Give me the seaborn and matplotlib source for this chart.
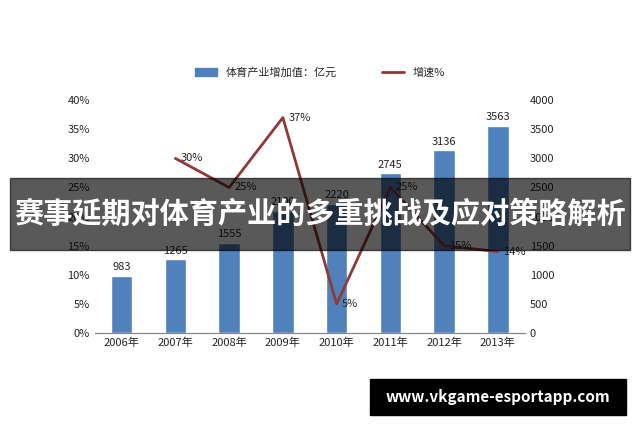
import matplotlib
matplotlib.use("Agg")
import matplotlib.pyplot as plt
import seaborn as sns
import pandas as pd

years = ["2006年","2007年","2008年","2009年","2010年","2011年","2012年","2013年"]
values = [983, 1265, 1555, 2100, 2220, 2745, 3136, 3563]
growth_years = ["2007年","2008年","2009年","2010年","2011年","2012年","2013年"]
growth = [30, 25, 37, 5, 25, 15, 14]

sns.set_style("white")
plt.rcParams['font.family'] = ['Noto Sans CJK SC', 'DejaVu Sans']

fig = plt.figure(figsize=(6.4, 4.26), dpi=100)
ax = fig.add_axes([0.148, 0.218, 0.672, 0.547])
ax2 = ax.twinx()
df = pd.DataFrame({"year": years, "v": values})
sns.barplot(data=df, x="year", y="v", ax=ax2, color="#4F81BD", width=0.4, saturation=1, zorder=1)
for i, v in enumerate(values):
    ax2.text(i, v + 60, str(v), ha="center", va="bottom", fontsize=8)
ax2.set_ylim(0, 4000)
ax2.set_yticks(range(0, 4001, 500))
ax2.set_ylabel("")
ax2.tick_params(labelsize=8, length=0)

xi = [years.index(y) for y in growth_years]
ax.set_zorder(ax2.get_zorder() + 1)
ax.patch.set_visible(False)
sns.lineplot(x=xi, y=growth, ax=ax, color="#953735", linewidth=2)
for x, g in zip(xi, growth):
    ax.text(x + 0.1, g, f"{g}%", fontsize=8, va="center")
ax.set_ylim(0, 40)
ax.set_yticks(range(0, 41, 5))
ax.set_yticklabels([f"{t}%" for t in range(0, 41, 5)])
ax.set_xlim(-0.5, 7.5)
ax.set_xticks(range(8))
ax.set_xticklabels(years)
ax.tick_params(labelsize=8, length=0)
ax2.set_xlabel("")
for a in (ax, ax2):
    for s in a.spines.values():
        s.set_visible(False)
    a.spines["bottom"].set_visible(True)
    a.spines["bottom"].set_color("#888888")

from matplotlib.patches import Rectangle
from matplotlib.lines import Line2D
h = [Rectangle((0, 0), 1, 1, color="#4F81BD"), Line2D([0], [0], color="#953735", lw=2)]
fig.legend(h, ["体育产业增加值：亿元", "增速%"], loc="center", bbox_to_anchor=(0.5, 0.83),
           ncol=2, frameon=False, fontsize=8, columnspacing=4)

fig.patches.append(Rectangle((0.015, 0.413), 0.97, 0.169, transform=fig.transFigure,
                             color="black", alpha=0.65, zorder=5))
fig.text(0.5, 0.497, "赛事延期对体育产业的多重挑战及应对策略解析", ha="center", va="center",
         color="white", fontsize=21, fontweight="bold", zorder=6)
fig.patches.append(Rectangle((0.578, 0.025), 0.40, 0.085, transform=fig.transFigure,
                             color="black", zorder=5))
fig.text(0.778, 0.067, "www.vkgame-esportapp.com", ha="center", va="center",
         color="white", fontsize=11, fontweight="bold", zorder=6)
fig.savefig("out.png", dpi=100)
